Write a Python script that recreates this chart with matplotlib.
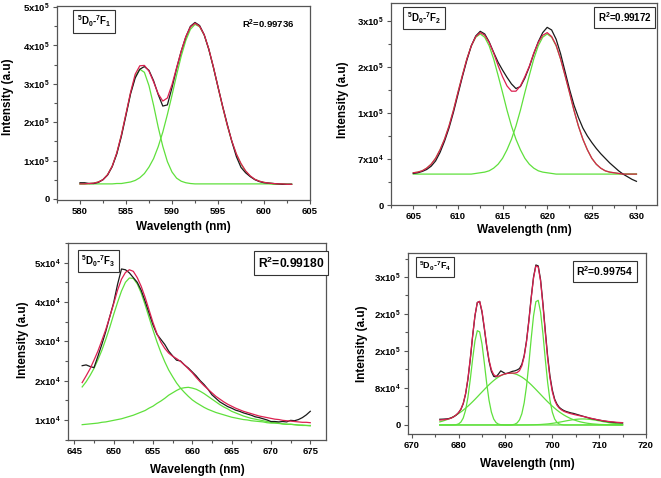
import numpy as np
import matplotlib
matplotlib.use("Agg")
import matplotlib.pyplot as plt
from matplotlib.ticker import AutoMinorLocator

plt.rcParams["font.family"] = ["Liberation Sans", "DejaVu Sans"]
plt.rcParams["font.weight"] = "bold"
plt.rcParams["mathtext.fontset"] = "custom"
plt.rcParams["mathtext.rm"] = "Liberation Sans:bold"
plt.rcParams["mathtext.it"] = "Liberation Sans:bold"
plt.rcParams["mathtext.bf"] = "Liberation Sans:bold"
plt.rcParams["mathtext.default"] = "rm"

# ---------------------------------------------------------
# Panel 1: 5D0-7F1 (intensity in units of 1e5)
# ---------------------------------------------------------
p1_x = np.arange(580, 603.01, 0.5)
p1_black = [0.42, 0.42, 0.40, 0.40, 0.43, 0.50, 0.62, 0.84, 1.17, 1.63,
            2.18, 2.74, 3.15, 3.38, 3.45, 3.35, 3.08, 2.72, 2.42, 2.45,
            2.90, 3.40, 3.85, 4.22, 4.50, 4.60, 4.52, 4.28, 3.90, 3.43,
            2.92, 2.42, 1.95, 1.50, 1.10, 0.82, 0.68, 0.58, 0.50, 0.45,
            0.42, 0.41, 0.40, 0.39, 0.38, 0.38, 0.38]
p1_red = [0.39, 0.39, 0.40, 0.41, 0.44, 0.50, 0.63, 0.85, 1.20, 1.67,
          2.22, 2.78, 3.25, 3.47, 3.48, 3.33, 3.05, 2.74, 2.55, 2.63,
          2.98, 3.42, 3.85, 4.23, 4.48, 4.58, 4.50, 4.28, 3.91, 3.44,
          2.92, 2.41, 1.93, 1.51, 1.17, 0.92, 0.73, 0.60, 0.51, 0.46,
          0.43, 0.41, 0.40, 0.39, 0.39, 0.38, 0.38]
p1_g1 = [0.39, 0.39, 0.40, 0.41, 0.44, 0.50, 0.63, 0.85, 1.19, 1.66,
         2.21, 2.76, 3.19, 3.38, 3.30, 2.95, 2.44, 1.87, 1.37, 0.97,
         0.70, 0.54, 0.46, 0.42, 0.40, 0.39, 0.39, 0.39, 0.39, 0.39,
         0.39, 0.39, 0.39, 0.39, 0.39, 0.39, 0.39, 0.39, 0.39, 0.39,
         0.39, 0.39, 0.38, 0.38, 0.38, 0.38, 0.38]
p1_g2 = [0.39, 0.39, 0.39, 0.39, 0.39, 0.39, 0.39, 0.39, 0.40, 0.40,
         0.42, 0.44, 0.48, 0.55, 0.66, 0.83, 1.05, 1.36, 1.74, 2.20,
         2.70, 3.23, 3.72, 4.13, 4.42, 4.55, 4.49, 4.27, 3.90, 3.43,
         2.91, 2.40, 1.92, 1.50, 1.16, 0.91, 0.72, 0.59, 0.51, 0.46,
         0.43, 0.41, 0.40, 0.39, 0.39, 0.38, 0.38]
p1_yticks = [0, 1, 2, 3, 4, 5]
p1_ylabels = ["0", "1x10$^5$", "2x10$^5$", "3x10$^5$", "4x10$^5$", "5x10$^5$"]
p1_xticks = [580, 585, 590, 595, 600, 605]

# ---------------------------------------------------------
# Panel 2: 5D0-7F2 (intensity in units of 1e5)
# ---------------------------------------------------------
p2_x = np.arange(605, 630.01, 0.5)
p2_black = [0.48, 0.49, 0.51, 0.54, 0.59, 0.67, 0.80, 0.97, 1.17, 1.41,
            1.68, 1.95, 2.20, 2.42, 2.57, 2.64, 2.60, 2.48, 2.32, 2.17,
            2.05, 1.94, 1.84, 1.77, 1.80, 1.93, 2.10, 2.30, 2.48, 2.62,
            2.70, 2.66, 2.52, 2.30, 2.03, 1.76, 1.52, 1.33, 1.17, 1.05,
            0.95, 0.86, 0.78, 0.71, 0.64, 0.58, 0.52, 0.47, 0.43, 0.39,
            0.36]
p2_red = [0.49, 0.50, 0.52, 0.56, 0.62, 0.71, 0.84, 1.00, 1.20, 1.44,
          1.71, 1.97, 2.22, 2.42, 2.56, 2.62, 2.58, 2.47, 2.31, 2.12,
          1.95, 1.81, 1.73, 1.73, 1.81, 1.95, 2.11, 2.31, 2.47, 2.58,
          2.62, 2.56, 2.43, 2.22, 1.97, 1.71, 1.44, 1.20, 1.00, 0.84,
          0.71, 0.62, 0.56, 0.52, 0.50, 0.49, 0.48, 0.47, 0.47, 0.47,
          0.47]
p2_g1 = [0.49, 0.50, 0.52, 0.56, 0.62, 0.71, 0.84, 1.00, 1.20, 1.44,
         1.71, 1.97, 2.22, 2.42, 2.55, 2.60, 2.55, 2.42, 2.22, 1.97,
         1.71, 1.44, 1.20, 1.00, 0.84, 0.71, 0.62, 0.56, 0.52, 0.50,
         0.49, 0.48, 0.47, 0.47, 0.47, 0.47, 0.47, 0.47, 0.47, 0.47,
         0.47, 0.47, 0.47, 0.47, 0.47, 0.47, 0.47, 0.47, 0.47, 0.47,
         0.47]
p2_g2 = [0.47, 0.47, 0.47, 0.47, 0.47, 0.47, 0.47, 0.47, 0.47, 0.47,
         0.47, 0.47, 0.47, 0.47, 0.48, 0.49, 0.50, 0.52, 0.56, 0.62,
         0.71, 0.84, 1.00, 1.20, 1.44, 1.71, 1.97, 2.22, 2.42, 2.55,
         2.60, 2.55, 2.42, 2.22, 1.97, 1.71, 1.44, 1.20, 1.00, 0.84,
         0.71, 0.62, 0.56, 0.52, 0.50, 0.49, 0.48, 0.47, 0.47, 0.47,
         0.47]
p2_yticks = [0, 0.7, 1.4, 2.1, 2.8]
p2_ylabels = ["0", "7x10$^4$", "1x10$^5$", "2x10$^5$", "3x10$^5$"]
p2_xticks = [605, 610, 615, 620, 625, 630]

# ---------------------------------------------------------
# Panel 3: 5D0-7F3 (intensity in units of 1e4)
# ---------------------------------------------------------
p3_x = np.arange(646, 675.01, 0.5)
p3_black = [2.38, 2.40, 2.36, 2.33, 2.62, 2.92, 3.25, 3.62, 3.98, 4.45,
            4.84, 4.82, 4.74, 4.62, 4.50, 4.30, 4.02, 3.72, 3.42, 3.18,
            3.05, 2.92, 2.75, 2.63, 2.52, 2.50, 2.40, 2.32, 2.22, 2.12,
            2.00, 1.90, 1.78, 1.64, 1.55, 1.46, 1.40, 1.34, 1.30, 1.25,
            1.22, 1.18, 1.15, 1.12, 1.08, 1.06, 1.03, 1.00, 0.96, 0.96,
            0.95, 0.96, 0.95, 0.99, 0.98, 1.01, 1.06, 1.13, 1.22]
p3_red = [1.95, 2.12, 2.30, 2.52, 2.75, 3.02, 3.30, 3.62, 3.95, 4.30,
          4.58, 4.75, 4.82, 4.78, 4.62, 4.40, 4.12, 3.80, 3.48, 3.20,
          2.98, 2.82, 2.70, 2.62, 2.56, 2.49, 2.40, 2.30, 2.20, 2.08,
          1.97, 1.87, 1.78, 1.69, 1.60, 1.53, 1.46, 1.40, 1.35, 1.30,
          1.26, 1.22, 1.19, 1.16, 1.13, 1.10, 1.08, 1.06, 1.04, 1.02,
          1.01, 0.99, 0.98, 0.97, 0.96, 0.95, 0.94, 0.94, 0.93]
p3_g1 = [1.84, 1.97, 2.13, 2.31, 2.53, 2.77, 3.05, 3.35, 3.68, 3.99,
         4.28, 4.50, 4.61, 4.60, 4.46, 4.23, 3.93, 3.61, 3.29, 2.99,
         2.72, 2.48, 2.27, 2.10, 1.94, 1.81, 1.70, 1.60, 1.51, 1.44,
         1.38, 1.32, 1.27, 1.23, 1.19, 1.16, 1.13, 1.10, 1.07, 1.05,
         1.03, 1.01, 1.00, 0.98, 0.97, 0.96, 0.95, 0.93, 0.92, 0.92,
         0.91, 0.90, 0.89, 0.89, 0.88, 0.87, 0.87, 0.86, 0.86]
p3_g2 = [0.88, 0.89, 0.90, 0.91, 0.92, 0.94, 0.95, 0.97, 0.99, 1.01,
         1.03, 1.06, 1.09, 1.12, 1.16, 1.20, 1.24, 1.30, 1.35, 1.42,
         1.48, 1.55, 1.63, 1.69, 1.75, 1.80, 1.82, 1.83, 1.81, 1.78,
         1.73, 1.67, 1.60, 1.53, 1.46, 1.39, 1.33, 1.28, 1.22, 1.18,
         1.14, 1.10, 1.07, 1.04, 1.02, 1.00, 0.98, 0.96, 0.94, 0.93,
         0.92, 0.90, 0.89, 0.89, 0.88, 0.87, 0.86, 0.86, 0.85]
p3_yticks = [1, 2, 3, 4, 5]
p3_ylabels = ["1x10$^4$", "2x10$^4$", "3x10$^4$", "4x10$^4$", "5x10$^4$"]
p3_xticks = [645, 650, 655, 660, 665, 670, 675]

# ---------------------------------------------------------
# Panel 4: 5D0-7F4 (intensity in units of 1e4)
# ---------------------------------------------------------
p4_x = np.arange(676, 715.01, 0.5)
p4_black = [1.23, 1.25, 1.28, 1.32, 1.40, 1.55, 1.80, 2.15, 2.65, 3.40,
            4.60, 6.70, 9.90, 14.20, 19.20, 23.60, 26.50, 26.70, 24.40, 20.80,
            17.00, 13.80, 11.60, 10.50, 10.40, 11.00, 11.70, 11.40, 11.10, 11.20,
            11.40, 11.60, 11.70, 11.90, 12.20, 13.10, 15.00, 18.20, 22.60, 27.60,
            32.00, 34.60, 34.40, 31.40, 26.30, 20.50, 15.00, 10.60, 7.60, 5.60,
            4.50, 3.80, 3.40, 3.10, 2.90, 2.75, 2.60, 2.50, 2.35, 2.20,
            2.05, 1.90, 1.75, 1.60, 1.45, 1.35, 1.25, 1.15, 1.05, 0.95,
            0.85, 0.78, 0.70, 0.62, 0.58, 0.52, 0.48, 0.45, 0.42]
p4_red = [1.05, 1.10, 1.16, 1.24, 1.34, 1.52, 1.80, 2.18, 2.68, 3.42,
          4.70, 6.82, 10.06, 14.40, 19.30, 23.72, 26.46, 26.74, 24.64, 21.06,
          17.20, 14.04, 11.96, 10.89, 10.53, 10.54, 10.71, 10.91, 11.06, 11.17,
          11.20, 11.22, 11.22, 11.34, 11.75, 12.78, 14.79, 18.01, 22.43, 27.41,
          31.82, 34.39, 34.18, 31.11, 25.96, 20.03, 14.53, 10.20, 7.21, 5.35,
          4.26, 3.62, 3.23, 2.93, 2.74, 2.57, 2.42, 2.30, 2.18, 2.07,
          1.96, 1.86, 1.75, 1.63, 1.51, 1.39, 1.27, 1.16, 1.06, 0.97,
          0.89, 0.82, 0.76, 0.70, 0.65, 0.60, 0.56, 0.53, 0.50]
p4_g1 = [0, 0, 0, 0, 0, 0, 0.02, 0.07, 0.23, 0.63,
         1.51, 3.21, 5.99, 9.86, 14.27, 18.18, 20.39, 20.13, 17.50, 13.39,
         9.01, 5.34, 2.79, 1.28, 0.52, 0.18, 0.06, 0.02, 0, 0,
         0, 0, 0, 0, 0, 0, 0, 0, 0, 0,
         0, 0, 0, 0, 0, 0, 0, 0, 0, 0,
         0, 0, 0, 0, 0, 0, 0, 0, 0, 0,
         0, 0, 0, 0, 0, 0, 0, 0, 0, 0,
         0, 0, 0, 0, 0, 0, 0, 0, 0]
p4_g2 = [0, 0, 0, 0, 0, 0, 0, 0, 0, 0,
         0, 0, 0, 0, 0, 0, 0, 0, 0, 0,
         0, 0, 0, 0, 0, 0, 0, 0, 0, 0,
         0, 0.05, 0.16, 0.45, 1.10, 2.42, 4.77, 8.39, 13.24, 18.68,
         23.59, 26.66, 26.96, 24.40, 19.75, 14.31, 9.28, 5.38, 2.79, 1.30,
         0.54, 0.20, 0.07, 0, 0, 0, 0, 0, 0, 0,
         0, 0, 0, 0, 0, 0, 0, 0, 0, 0,
         0, 0, 0, 0, 0, 0, 0, 0, 0]
p4_g3 = [0.67, 0.81, 0.97, 1.15, 1.35, 1.59, 1.85, 2.14, 2.47, 2.82,
         3.21, 3.63, 4.07, 4.54, 5.03, 5.54, 6.07, 6.61, 7.14, 7.67,
         8.19, 8.70, 9.17, 9.61, 10.01, 10.36, 10.65, 10.89, 11.06, 11.17,
         11.20, 11.17, 11.06, 10.89, 10.65, 10.36, 10.01, 9.61, 9.17, 8.70,
         8.19, 7.67, 7.14, 6.61, 6.07, 5.54, 5.03, 4.54, 4.07, 3.63,
         3.21, 2.82, 2.47, 2.14, 1.85, 1.59, 1.35, 1.15, 0.97, 0.81,
         0.67, 0.56, 0.46, 0.37, 0.30, 0.24, 0.20, 0.16, 0.12, 0.10,
         0.08, 0.06, 0.05, 0.04, 0.03, 0.02, 0.02, 0.01, 0.01]
p4_g4 = [0, 0, 0, 0, 0, 0, 0, 0, 0, 0,
         0, 0, 0, 0, 0, 0, 0, 0, 0, 0,
         0, 0, 0, 0, 0, 0, 0, 0, 0, 0,
         0, 0, 0, 0, 0, 0, 0.01, 0.01, 0.02, 0.03,
         0.04, 0.06, 0.08, 0.10, 0.14, 0.18, 0.22, 0.28, 0.35, 0.42,
         0.51, 0.60, 0.69, 0.79, 0.89, 0.98, 1.07, 1.15, 1.21, 1.26,
         1.29, 1.30, 1.29, 1.26, 1.21, 1.15, 1.07, 0.98, 0.89, 0.79,
         0.69, 0.60, 0.51, 0.42, 0.35, 0.28, 0.22, 0.18, 0.14]
p4_yticks = [0, 8, 16, 24, 32]
p4_ylabels = ["0", "8x10$^4$", "2x10$^5$", "2x10$^5$", "3x10$^5$"]
p4_xticks = [670, 680, 690, 700, 710, 720]

labels = ["$^5$D$_0$-$^7$F$_1$", "$^5$D$_0$-$^7$F$_2$",
          "$^5$D$_0$-$^7$F$_3$", "$^5$D$_0$-$^7$F$_4$"]
r2_texts = ["R$^2$=0.99736", "R$^2$=0.99172", "R$^2$=0.99180", "R$^2$=0.99754"]

GREEN = "#5fe03c"
RED = "#dc2050"
BLACK = "#1a1a1a"
SPINE = "#555555"


def draw_panel(ax, x, black, red, greens, xlim, ylim, xticks, yticks, ylabels):
    for g in greens:
        ax.plot(x, g, color=GREEN, lw=0.9)
    ax.plot(x, black, color=BLACK, lw=0.9)
    ax.plot(x, red, color=RED, lw=0.9)
    ax.set_xlim(*xlim)
    ax.set_ylim(*ylim)
    ax.set_xticks(xticks)
    ax.set_yticks(yticks, labels=ylabels)
    ax.xaxis.set_minor_locator(AutoMinorLocator(2))
    ax.yaxis.set_minor_locator(AutoMinorLocator(2))
    ax.tick_params(which="both", direction="out", color=SPINE, width=0.8,
                   labelsize=6.8, pad=2, top=False, right=False)
    ax.tick_params(which="major", length=3)
    ax.tick_params(which="minor", length=2)
    for s in ax.spines.values():
        s.set_color(SPINE)
        s.set_linewidth(0.9)
    ax.set_xlabel("Wavelength (nm)", fontsize=8.5, fontweight="bold")
    ax.set_ylabel("Intensity (a.u)", fontsize=8.5, fontweight="bold")


fig = plt.figure(figsize=(6.61, 4.78), dpi=100)

ax1 = fig.add_axes([0.0862, 0.5816, 0.3828, 0.4059])
draw_panel(ax1, p1_x, p1_black, p1_red, [p1_g1, p1_g2], (577.5, 605),
           (-0.03, 5.03), p1_xticks, p1_yticks, p1_ylabels)
ax1.xaxis.set_label_coords(0.5, -0.11)
ax1.yaxis.set_label_coords(-0.17, 0.53)

ax2 = fig.add_axes([0.5915, 0.5711, 0.4024, 0.4226])
draw_panel(ax2, p2_x, p2_black, p2_red, [p2_g1, p2_g2], (602.5, 632.3),
           (0, 3.07), p2_xticks, p2_yticks, p2_ylabels)
ax2.xaxis.set_label_coords(0.5, -0.095)
ax2.yaxis.set_label_coords(-0.158, 0.52)

ax3 = fig.add_axes([0.1029, 0.0795, 0.3903, 0.4121])
draw_panel(ax3, p3_x, p3_black, p3_red, [p3_g1, p3_g2], (644.2, 677),
           (0.49, 5.5), p3_xticks, p3_yticks, p3_ylabels)
ax3.xaxis.set_label_coords(0.5, -0.12)
ax3.yaxis.set_label_coords(-0.151, 0.51)

ax4 = fig.add_axes([0.6172, 0.0921, 0.3601, 0.3787])
draw_panel(ax4, p4_x, p4_black, p4_red, [p4_g1, p4_g2, p4_g3, p4_g4],
           (669.2, 720), (-1.95, 37.2), p4_xticks, p4_yticks, p4_ylabels)
ax4.xaxis.set_label_coords(0.5, -0.13)
ax4.yaxis.set_label_coords(-0.168, 0.50)

box = dict(boxstyle="square,pad=0.35", fc="white", ec="#333333", lw=0.8)

ax1.text(0.146, 0.92, labels[0], transform=ax1.transAxes, ha="center",
         va="center", fontsize=7, bbox=box)
ax1.text(0.834, 0.907, r2_texts[0], transform=ax1.transAxes, ha="center",
         va="center", fontsize=6.8)

ax2.text(0.124, 0.926, labels[1], transform=ax2.transAxes, ha="center",
         va="center", fontsize=7, bbox=box)
ax2.text(0.878, 0.928, r2_texts[1], transform=ax2.transAxes, ha="center",
         va="center", fontsize=7, bbox=box)

ax3.text(0.118, 0.909, labels[2], transform=ax3.transAxes, ha="center",
         va="center", fontsize=7, bbox=box)
ax3.text(0.864, 0.898, r2_texts[2], transform=ax3.transAxes, ha="center",
         va="center", fontsize=8.7, bbox=box)

ax4.text(0.113, 0.923, labels[3], transform=ax4.transAxes, ha="center",
         va="center", fontsize=6.5, bbox=box)
ax4.text(0.828, 0.898, r2_texts[3], transform=ax4.transAxes, ha="center",
         va="center", fontsize=7.5, bbox=box)

fig.savefig("out.png", dpi=100)
